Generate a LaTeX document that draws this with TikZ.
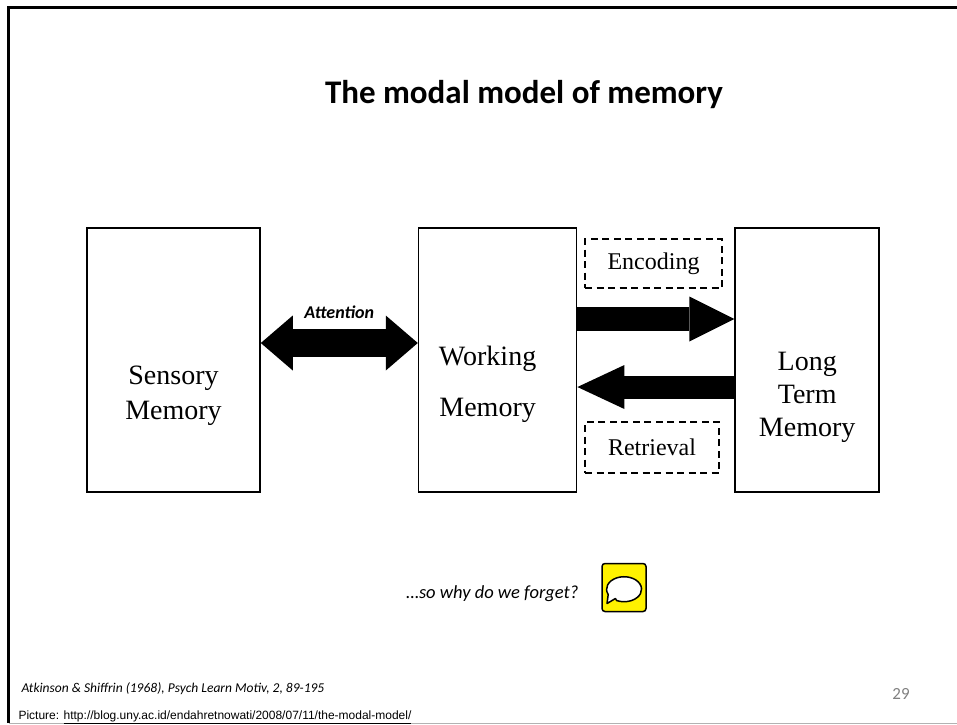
\documentclass[tikz,border=0pt]{standalone}
\usepackage{fontspec}
\setmainfont{Liberation Serif}
\newfontfamily\calibri{Carlito}
\newfontfamily\arial{Liberation Sans}
\usepackage{tikz}
\usetikzlibrary{positioning}
\usetikzlibrary{calc}
\usetikzlibrary{arrows.meta}
\tikzset{
	membox/.style={
		draw, line width=1.6pt, minimum height=264pt, inner sep=0pt
	},
	memtext/.style={
		align=center, inner sep=0pt, font=\fontsize{28}{#1}\selectfont
	},
	memtext/.default=35,
	stagebox/.style={
		draw, line width=1.8pt, dash pattern=on 7pt off 4.5pt, inner sep=0pt,
		font=\fontsize{24}{28}\selectfont
	},
	fatarrow/.style n args={3}{
		line width=#1, -{Triangle[length=#2, width=#3, line width=0pt]}
	},
	attention arrow/.style={
		line width=28pt,
		{Triangle[length=32pt, width=55pt, line width=0pt]}-{Triangle[length=32pt, width=55pt, line width=0pt]}
	}
}

\begin{document}
\begin{tikzpicture}[x=1pt, y=-1pt, node distance=157pt]
\useasboundingbox (0,0) rectangle (957,724);
% slide frame
\draw[line width=2.5pt] (8.5,723) -- (8.5,7.5) -- (957,7.5);
\draw[gray!60, line width=1pt] (8.5,723.5) -- (957,723.5);

\node[font=\calibri\bfseries\fontsize{33}{38}\selectfont] (title) at (524,95) {The modal model of memory};

\node[membox, minimum width=173pt] (sensory) at (173.5,360) {};
\node[membox, minimum width=158pt, right=of sensory] (working) {};
\node[membox, minimum width=144pt, right=of working] (ltm) {};

\node[memtext] (sensory-text) at ([yshift=-36pt]sensory.center) {Sensory\\Memory};
\node[memtext=51] (working-text) at ([xshift=-10pt, yshift=-24pt]working.center) {Working\\Memory};
\node[memtext=33] (ltm-text) at ([yshift=-37pt]ltm.center) {Long\\Term\\Memory};

\node[stagebox, minimum width=137pt, minimum height=49pt] (encoding) at (653.5,263.5) {Encoding};
\node[stagebox, minimum width=134pt, minimum height=51pt] (retrieval) at (652,447.5) {Retrieval};

\draw[attention arrow] ([yshift=17pt]sensory.east) -- ([yshift=17pt]working.west)
	node[midway, yshift=31pt, font=\calibri\bfseries\itshape\fontsize{18}{22}\selectfont] (attention) {Attention};
\draw[fatarrow={24pt}{45pt}{45pt}] ([yshift=41pt]working.east) -- ([yshift=41pt]ltm.west);
\draw[fatarrow={23pt}{47pt}{44pt}] ([yshift=-27pt]ltm.west) -- ([yshift=-27pt]working.east);

\node[font=\calibri\itshape\fontsize{18.5}{22}\selectfont, anchor=base east] (forget) at (582,598) {…so why do we forget?};
\node[draw, fill=yellow, line width=1.5pt, rounded corners=3pt, minimum width=44pt, minimum height=48pt] (bubble) at (624,587.5) {};
\begin{scope}[shift={(bubble.center)}, x=1pt, y=1pt]
	\draw[fill=white, line width=1.5pt, line join=round]
		(-8.6,-11) -- (-17,-16) -- (-15.8,-7) arc[start angle=205, end angle=-115, x radius=17.5, y radius=12.5] -- cycle;
\end{scope}

\node[font=\calibri\itshape\fontsize{13.5}{16}\selectfont, anchor=base west] (source) at (18,692) {Atkinson \& Shiffrin (1968), Psych Learn Motiv, 2, 89-195};
\node[font=\calibri\fontsize{17}{19}\selectfont, text=gray, anchor=base] (pagenum) at (901,699) {29};
\node[font=\arial\fontsize{12}{14}\selectfont, anchor=base west] (picture) at (15,719) {Picture: \underline{http://blog.uny.ac.id/endahretnowati/2008/07/11/the-modal-model/}};
\end{tikzpicture}
\end{document}
